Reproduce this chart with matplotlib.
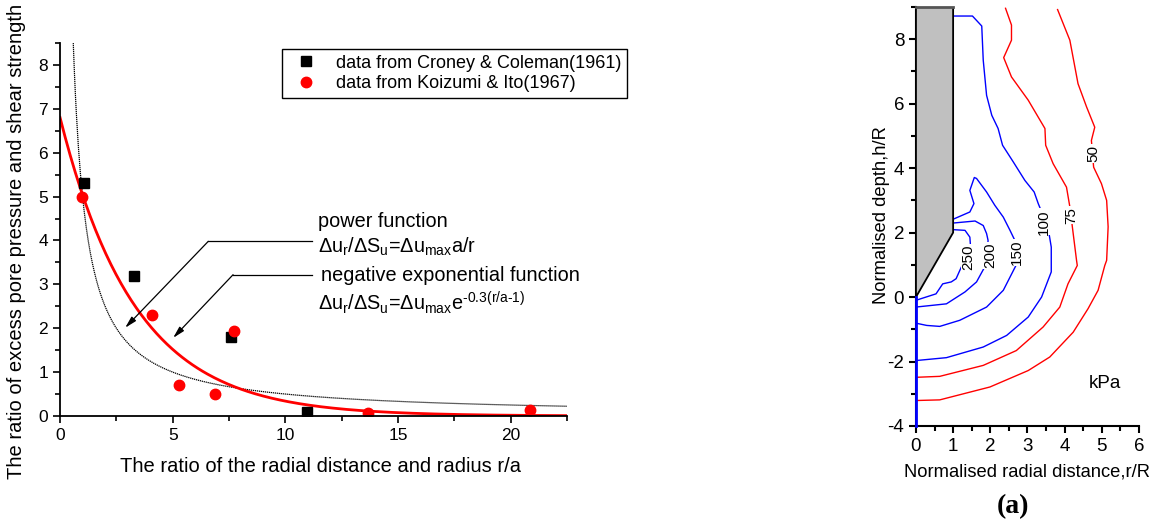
import numpy as np
import matplotlib.pyplot as plt
from matplotlib.ticker import MultipleLocator

plt.rcParams['font.family'] = ['Liberation Sans', 'DejaVu Sans']
plt.rcParams['mathtext.fontset'] = 'custom'
plt.rcParams['mathtext.rm'] = 'Liberation Sans'
plt.rcParams['mathtext.it'] = 'Liberation Sans'
plt.rcParams['axes.unicode_minus'] = False

# measured points
croney_x = [1.08, 3.3, 7.6, 10.96]
croney_y = [5.31, 3.18, 1.80, 0.10]
koizumi_x = [0.99, 4.1, 5.3, 6.89, 7.7, 13.67, 20.84]
koizumi_y = [4.98, 2.30, 0.70, 0.50, 1.93, 0.06, 0.14]

# fitted curves
umax_power = 5.0
umax_exp = 5.04
exp_rate = 0.3

# pile outline (r/R, h/R)
pile_x = [0, 1, 1, 0]
pile_y = [9, 9, 2, 0]

# contour lines of excess pore pressure (kPa)
c250_x = [1.03, 1.32, 1.45, 1.47, 1.36, 1.22, 1.08, 0.95, 0.72, 0.54, 0.0]
c250_y = [2.09, 2.07, 1.86, 1.55, 1.24, 0.93, 0.57, 0.47, 0.41, 0.10, -0.10]
c200_x = [1.03, 1.59, 1.81, 1.90, 1.94, 1.90, 1.63, 1.32, 0.82, 0.0]
c200_y = [2.30, 2.36, 2.22, 1.97, 1.76, 1.04, 0.47, 0.16, -0.21, -0.31]
c150_x = [1.03, 1.45, 1.56, 1.45, 1.57, 1.63, 1.90, 2.12, 2.35, 2.53, 2.66, 2.69,
          2.69, 2.35, 1.90, 1.18, 0.64, 0.29, 0.0]
c150_y = [2.43, 2.64, 2.90, 3.31, 3.71, 3.68, 3.26, 2.85, 2.48, 2.07, 1.76, 1.50,
          0.98, 0.21, -0.31, -0.72, -0.91, -0.88, -0.81]
c100_x = [1.0, 1.52, 1.77, 1.81, 1.90, 2.04, 2.21, 2.33, 2.62, 2.93, 3.18, 3.29,
          3.44, 3.58, 3.64, 3.64, 3.38, 3.02, 2.44, 1.81, 0.82, 0.0]
c100_y = [8.72, 8.72, 8.41, 7.35, 6.26, 5.64, 5.23, 4.71, 4.19, 3.62, 3.26, 2.90,
          2.48, 1.97, 1.55, 0.78, 0.0, -0.62, -1.19, -1.55, -1.88, -1.97]
c75_x = [2.41, 2.57, 2.57, 2.36, 2.57, 3.02, 3.47, 3.49, 3.69, 4.05, 4.14, 4.23,
         4.32, 4.34, 4.09, 3.87, 3.42, 2.70, 1.81, 0.64, 0.0]
c75_y = [8.96, 8.44, 7.97, 7.43, 6.83, 6.11, 5.23, 4.71, 4.14, 3.41, 2.80, 1.97,
         1.14, 0.98, 0.41, -0.31, -0.93, -1.66, -2.12, -2.46, -2.49]
c50_x = [3.81, 4.14, 4.36, 4.59, 4.81, 4.72, 4.78, 4.99, 5.13, 5.17, 5.13, 5.08,
         4.90, 4.63, 4.23, 3.60, 3.02, 1.99, 0.64, 0.0]
c50_y = [8.92, 7.97, 6.62, 5.90, 5.27, 4.86, 4.03, 3.52, 3.00, 2.18, 1.14, 0.98,
         0.21, -0.36, -1.09, -1.86, -2.28, -2.79, -3.19, -3.21]

contours = [
    (c250_x, c250_y, 'blue', '250', 1.41, 1.23),
    (c200_x, c200_y, 'blue', '200', 1.99, 1.29),
    (c150_x, c150_y, 'blue', '150', 2.72, 1.38),
    (c100_x, c100_y, 'blue', '100', 3.43, 2.33),
    (c75_x, c75_y, 'red', '75', 4.19, 2.54),
    (c50_x, c50_y, 'red', '50', 4.77, 4.45),
]

fig = plt.figure(figsize=(11.52, 5.23), dpi=100)

# ---- left panel: pore pressure ratio vs distance
ax = fig.add_axes([0.0521, 0.2046, 0.4401, 0.7132])
r = np.linspace(0.55, 22.5, 500)
ax.plot(r, umax_power / r, color='black', lw=0.9, ls=(0, (1, 0.6)))
r2 = np.linspace(0, 22.5, 300)
ax.plot(r2, umax_exp * np.exp(-exp_rate * (r2 - 1)), color='red', lw=2)
ax.plot(croney_x, croney_y, 's', color='black', ms=6.5, ls='none',
        label='data from Croney & Coleman(1961)')
ax.plot(koizumi_x, koizumi_y, 'o', color='red', ms=7.5, ls='none',
        label='data from Koizumi & Ito(1967)')

ax.set_xlim(0, 22.5)
ax.set_ylim(0, 8.5)
ax.xaxis.set_major_locator(MultipleLocator(5))
ax.xaxis.set_minor_locator(MultipleLocator(2.5))
ax.yaxis.set_major_locator(MultipleLocator(1))
ax.yaxis.set_minor_locator(MultipleLocator(0.5))
for s in ['top', 'right']:
    ax.spines[s].set_visible(False)
for s in ['left', 'bottom']:
    ax.spines[s].set_linewidth(1.3)
ax.tick_params(which='major', length=5, width=1.2, labelsize=12.5)
ax.tick_params(which='minor', length=3.5, width=1.2)

leg = ax.legend(loc='upper left', bbox_to_anchor=(0.438, 0.983), borderaxespad=0,
                fancybox=False, edgecolor='black', framealpha=1, fontsize=13,
                handletextpad=0.7, borderpad=0.3, labelspacing=0.2,
                handlelength=2.0)
leg.get_frame().set_linewidth(1.0)

# leader lines to the two fits
ax.plot([6.58, 11.19], [3.98, 3.98], color='black', lw=0.9)
ax.annotate('', xy=(2.89, 2.01), xytext=(6.58, 3.98),
            arrowprops=dict(arrowstyle='-|>,head_length=0.7,head_width=0.18',
                            color='black', lw=0.9, shrinkA=0, shrinkB=0))
ax.plot([7.68, 11.19], [3.22, 3.22], color='black', lw=0.9)
ax.annotate('', xy=(5.02, 1.78), xytext=(7.68, 3.22),
            arrowprops=dict(arrowstyle='-|>,head_length=0.7,head_width=0.18',
                            color='black', lw=0.9, shrinkA=0, shrinkB=0))

ax.text(11.47, 4.43, 'power function', fontsize=14.3, va='center')
ax.text(11.47, 3.86,
        r'Δ$\mathregular{u_r}$/Δ$\mathregular{S_u}$=Δ$\mathregular{u_{max}}$a/r',
        fontsize=14.3, va='center')
ax.text(11.6, 3.20, 'negative exponential function', fontsize=14.3, va='center')
ax.text(11.47, 2.58,
        r'Δ$\mathregular{u_r}$/Δ$\mathregular{S_u}$=Δ$\mathregular{u_{max}}$'
        r'e$\mathregular{^{\text{-0.3(r/a-1)}}}$',
        fontsize=14.3, va='center')

fig.text(17 / 1152, 1 - 241 / 523,
         'The ratio of excess pore pressure and shear strength',
         rotation=90, ha='center', va='center', fontsize=14.5)
fig.text(320 / 1152, 1 - 467 / 523,
         'The ratio of the radial distance and radius r/a',
         ha='center', va='center', fontsize=14.5)

# ---- right panel: contours around the pile
bx = fig.add_axes([0.7951, 0.1855, 0.1936, 0.8011])
bx.fill(pile_x, pile_y, facecolor='#c0c0c0', edgecolor='black', lw=1.3, zorder=3)
bx.plot([0, 1], [9, 9], color='#555555', lw=2, zorder=4, clip_on=False)
for cx, cy, col, lab, lx, ly in contours:
    bx.plot(cx, cy, color=col, lw=1)
    bx.text(lx, ly, lab, rotation=90, ha='center', va='center', fontsize=11,
            bbox=dict(facecolor='white', edgecolor='none', pad=0.5), zorder=5)
bx.plot([0, 0], [-4, 0], color='blue', lw=2, zorder=6, clip_on=False)

bx.set_xlim(0, 6)
bx.set_ylim(-4, 9)
bx.xaxis.set_major_locator(MultipleLocator(1))
bx.xaxis.set_minor_locator(MultipleLocator(0.5))
bx.yaxis.set_major_locator(MultipleLocator(2))
bx.yaxis.set_minor_locator(MultipleLocator(1))
for s in ['top', 'right']:
    bx.spines[s].set_visible(False)
for s in ['left', 'bottom']:
    bx.spines[s].set_linewidth(1.5)
bx.tick_params(which='major', length=5, width=1.5, labelsize=13.5)
bx.tick_params(which='minor', length=3.5, width=1.5)
bx.text(5.08, -2.69, 'kPa', fontsize=13.5, ha='center', va='center')

fig.text(881 / 1152, 1 - 215 / 523, 'Normalised depth,h/R', rotation=90,
         ha='center', va='center', fontsize=13.2)
fig.text(1027 / 1152, 1 - 472 / 523, 'Normalised radial distance,r/R',
         ha='center', va='center', fontsize=13.2)
fig.text(1013 / 1152, 1 - 507 / 523, '(a)', ha='center', va='center',
         fontsize=20, fontweight='bold', family='Liberation Serif')

fig.savefig('out.png', dpi=100)
